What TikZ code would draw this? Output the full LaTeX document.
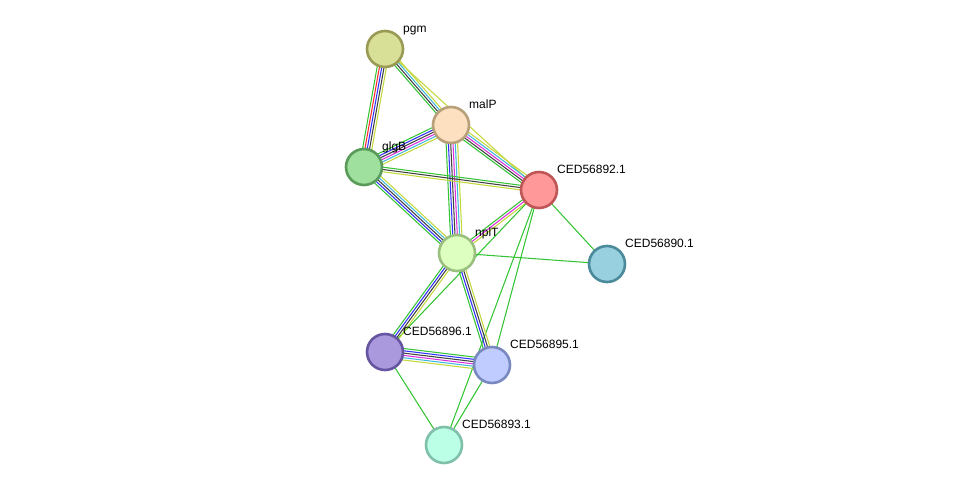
\documentclass[tikz,border=0pt]{standalone}
\usepackage{fontspec}
\setmainfont{Liberation Sans}
\usetikzlibrary{calc,backgrounds}
\definecolor{egreen}{HTML}{33C433}
\definecolor{ered}{HTML}{FF2A2A}
\definecolor{eblue}{HTML}{3030FF}
\definecolor{eblack}{HTML}{404040}
\definecolor{emag}{HTML}{DD30DD}
\definecolor{ecyan}{HTML}{40B8DD}
\definecolor{eyel}{HTML}{C4D83A}
\tikzset{
  prot/.style={circle, minimum size=36pt, inner sep=0pt, line width=2.6pt},
  lab/.style={anchor=base west, font=\fontsize{12pt}{14pt}\selectfont, inner sep=0pt, text=black},
}
\newcommand\multiedge[4]{%
  \foreach \c [count=\i] in {#4} {%
    \pgfmathsetmacro\off{(\i-(#3+1)/2)*2.3}%
    \draw[\c, line width=1.05pt] ($(#1.center)!\off pt!90:(#2.center)$) -- ($(#2.center)!\off pt!-90:(#1.center)$);
  }%
}
\begin{document}
\begin{tikzpicture}[x=1pt,y=-1pt]
\useasboundingbox (0,0) rectangle (975,491);
\node[prot, fill={rgb,255:red,216;green,223;blue,150}, draw={rgb,255:red,154;green,154;blue,85}] (pgm) at (385,49) {};
\node[prot, fill={rgb,255:red,253;green,224;blue,192}, draw={rgb,255:red,184;green,160;blue,122}] (malP) at (451,125) {};
\node[prot, fill={rgb,255:red,159;green,224;blue,159}, draw={rgb,255:red,90;green,154;blue,90}] (glgB) at (364,167) {};
\node[prot, fill={rgb,255:red,255;green,153;blue,153}, draw={rgb,255:red,192;green,85;blue,85}] (c92) at (539,190) {};
\node[prot, fill={rgb,255:red,221;green,255;blue,192}, draw={rgb,255:red,154;green,192;blue,128}] (nplT) at (457,253) {};
\node[prot, fill={rgb,255:red,153;green,208;blue,224}, draw={rgb,255:red,74;green,138;blue,154}] (c90) at (607,264) {};
\node[prot, fill={rgb,255:red,170;green,153;blue,221}, draw={rgb,255:red,102;green,85;blue,160}] (c96) at (385,352) {};
\node[prot, fill={rgb,255:red,192;green,204;blue,255}, draw={rgb,255:red,122;green,136;blue,192}] (c95) at (492,365) {};
\node[prot, fill={rgb,255:red,187;green,255;blue,230}, draw={rgb,255:red,128;green,192;blue,170}] (c93) at (444,445) {};
\begin{scope}[on background layer]
\fill[white] (0,0) rectangle (975,491);
\multiedge{pgm}{glgB}{5}{egreen,ered,eblue,eblack,eyel}
\multiedge{pgm}{malP}{4}{egreen,eblack,ecyan,eyel}
\multiedge{pgm}{c92}{1}{eyel}
\multiedge{malP}{glgB}{6}{egreen,eblue,eblack,emag,ecyan,eyel}
\multiedge{malP}{c92}{5}{egreen,eblack,emag,ecyan,eyel}
\multiedge{malP}{nplT}{6}{egreen,eblue,eblack,emag,ecyan,eyel}
\multiedge{glgB}{c92}{3}{eyel,eblack,egreen}
\multiedge{glgB}{nplT}{5}{egreen,eblue,eblack,ecyan,eyel}
\multiedge{c92}{nplT}{3}{egreen,emag,eyel}
\multiedge{c92}{c90}{1}{egreen}
\multiedge{c92}{c96}{1}{egreen}
\multiedge{c92}{c95}{1}{egreen}
\multiedge{c92}{c93}{1}{egreen}
\multiedge{nplT}{c90}{1}{egreen}
\multiedge{nplT}{c96}{4}{egreen,eblue,eblack,eyel}
\multiedge{nplT}{c95}{4}{egreen,eblue,eblack,eyel}
\multiedge{c96}{c95}{6}{eyel,ecyan,emag,eblack,eblue,egreen}
\multiedge{c96}{c93}{1}{egreen}
\multiedge{c95}{c93}{1}{egreen}
\end{scope}
\node[lab] (lpgm) at (403,32) {pgm};
\node[lab] (lmalP) at (469,108) {malP};
\node[lab] (lglgB) at (382,150) {glgB};
\node[lab] (l92) at (557,173) {CED56892.1};
\node[lab] (lnplT) at (475,236) {nplT};
\node[lab] (l90) at (625,247) {CED56890.1};
\node[lab] (l96) at (403,335) {CED56896.1};
\node[lab] (l95) at (510,348) {CED56895.1};
\node[lab] (l93) at (462,428) {CED56893.1};
\end{tikzpicture}
\end{document}
